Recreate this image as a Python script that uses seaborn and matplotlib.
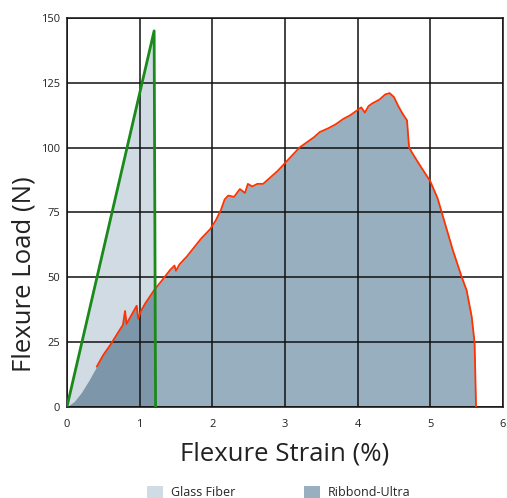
import matplotlib.pyplot as plt
import numpy as np
import pandas as pd
import seaborn as sns
from matplotlib.patches import Patch, Polygon

# Glass Fiber specimen (strain %, load N)
glass_strain = [0.0, 1.20, 1.22]
glass_load = [0.0, 145.0, 0.0]

# Ribbond-Ultra specimen (strain %, load N)
ribbond_strain = [
    0.0, 0.1, 0.2, 0.3, 0.41, 0.5, 0.6, 0.7, 0.77, 0.80, 0.82, 0.86, 0.92,
    0.96, 0.98, 1.02, 1.08, 1.14, 1.2, 1.3, 1.42, 1.48, 1.50, 1.55, 1.65,
    1.75, 1.85, 1.97, 2.05, 2.12, 2.17, 2.22, 2.3, 2.38, 2.45, 2.49, 2.55,
    2.62, 2.7, 2.8, 2.9, 3.0, 3.1, 3.2, 3.3, 3.4, 3.48, 3.6, 3.7, 3.8, 3.9,
    4.0, 4.05, 4.1, 4.15, 4.2, 4.3, 4.38, 4.44, 4.5, 4.56, 4.62, 4.68, 4.70,
    4.71, 4.75, 4.85, 5.0, 5.1, 5.2, 5.31, 5.43, 5.5, 5.57, 5.61, 5.63,
]
ribbond_load = [
    0.0, 2.0, 5.5, 10.0, 15.5, 20.0, 24.0, 28.5, 31.6, 37.0, 32.0, 34.0,
    37.0, 39.0, 34.0, 37.0, 40.0, 42.5, 45.0, 48.5, 52.8, 54.5, 52.5, 55.0,
    58.0, 61.5, 65.0, 68.5, 72.0, 76.0, 80.0, 81.5, 81.0, 84.0, 82.5, 86.0,
    85.0, 86.0, 86.0, 88.5, 91.0, 94.0, 97.0, 100.0, 102.0, 104.0, 106.0,
    107.5, 109.0, 111.0, 112.5, 114.5, 115.5, 113.5, 116.0, 117.0, 118.5,
    120.5, 121.0, 119.5, 116.0, 113.0, 110.5, 103.0, 100.0, 98.0, 93.5,
    87.0, 80.5, 71.0, 60.5, 50.3, 45.0, 34.8, 24.7, 0.0,
]

x_ticks = [0, 1, 2, 3, 4, 5, 6]
y_ticks = [0, 25, 50, 75, 100, 125, 150]

glass_df = pd.DataFrame({"strain": glass_strain, "load": glass_load})
ribbond_df = pd.DataFrame({"strain": ribbond_strain, "load": ribbond_load})

sns.set_style("white")
plt.rcParams["font.family"] = ["Open Sans", "DejaVu Sans"]

fig = plt.figure(figsize=(5.07, 4.98), dpi=100)
ax = fig.add_axes([0.132, 0.183, 0.860, 0.781])

glass_fill = "#d0dbe3"
ribbond_fill = "#98afbf"
overlap_fill = "#7d96aa"

ax.fill_between(glass_df["strain"], glass_df["load"], color=glass_fill, lw=0, zorder=1)
ax.fill_between(ribbond_df["strain"], ribbond_df["load"], color=ribbond_fill, lw=0, zorder=1)
overlap = ax.fill_between(ribbond_df["strain"], ribbond_df["load"], color=overlap_fill,
                          lw=0, zorder=1.1)
clip = Polygon(np.column_stack([glass_strain, glass_load]), closed=True,
               transform=ax.transData, fill=False, lw=0)
ax.add_patch(clip)
overlap.set_clip_path(clip)

edge = ribbond_df[ribbond_df["strain"] >= 0.4]
sns.lineplot(data=edge, x="strain", y="load", ax=ax, color="#ff3300", lw=1.3,
             sort=False, estimator=None, zorder=3)
sns.lineplot(data=glass_df, x="strain", y="load", ax=ax, color="#1a8a1a", lw=2.0,
             sort=False, estimator=None, zorder=3)

ax.set_xlim(0, 6)
ax.set_ylim(0, 150)
ax.set_xticks(x_ticks)
ax.set_yticks(y_ticks)
ax.tick_params(axis="x", length=0, labelsize=8, pad=9, colors="#222222")
ax.tick_params(axis="y", length=0, labelsize=8, pad=5, colors="#222222")
ax.set_axisbelow(False)
ax.grid(True, color="#111111", lw=1.1, zorder=2)
for spine in ax.spines.values():
    spine.set_color("#111111")
    spine.set_linewidth(1.1)

ax.set_xlabel("Flexure Strain (%)", fontsize=18.5, labelpad=8, color="#222222")
ax.set_ylabel("Flexure Load (N)", fontsize=18.5, color="#222222")
ax.yaxis.set_label_coords(-0.069, 0.342)

handles = [Patch(facecolor=glass_fill, edgecolor="none", label="Glass Fiber"),
           Patch(facecolor=ribbond_fill, edgecolor="none", label="Ribbond-Ultra")]
fig.legend(handles=handles, loc="lower center", bbox_to_anchor=(0.55, -0.025), ncol=2,
           frameon=False, fontsize=9, handlelength=1.3, handleheight=1.2,
           columnspacing=5.5, handletextpad=0.6)

fig.savefig("out.png", dpi=100)
